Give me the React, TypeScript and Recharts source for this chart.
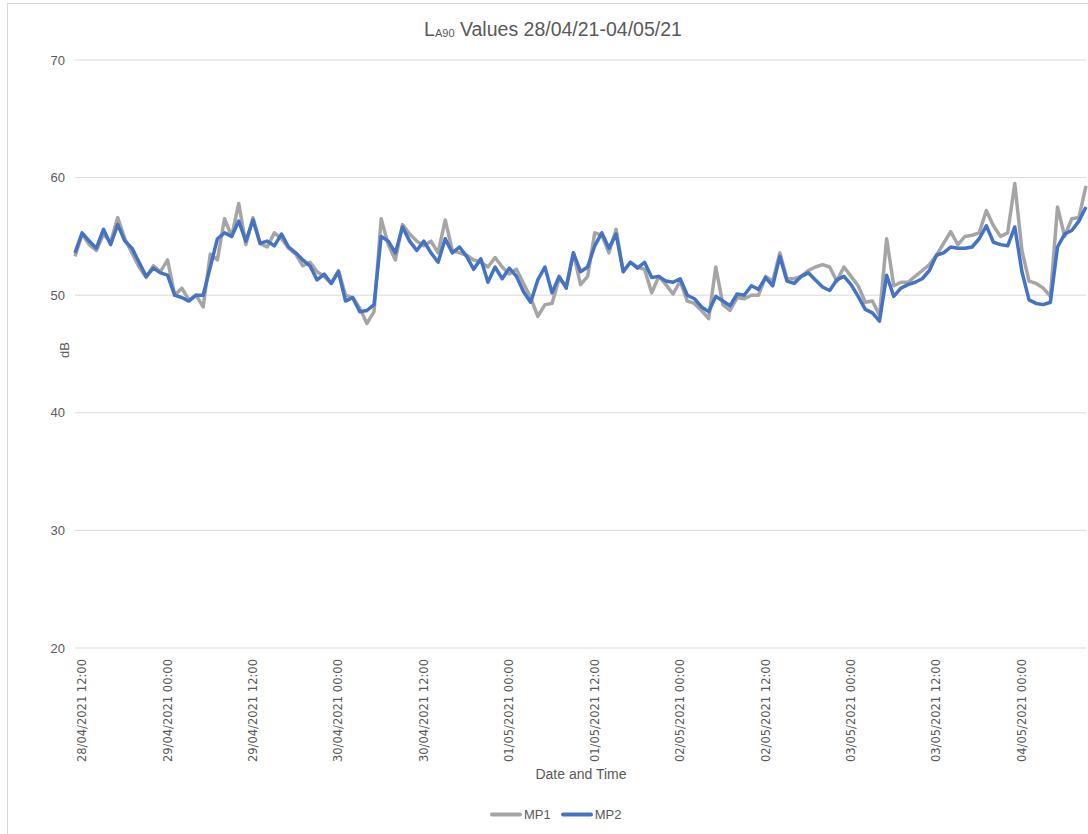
import React from 'react';
import { LineChart, Line, XAxis, YAxis, CartesianGrid } from 'recharts';

// hourly readings, first one at 28/04/2021 11:00 (hour 11 counted from 28/04 00:00)
const START_HOUR = 11;

const mp1 = [
  53.3, 55.2, 54.3, 53.8, 55.2, 54.5, 56.6, 54.8, 53.6, 52.4,
  51.5, 52.5, 52.0, 53.0, 50.0, 50.6, 49.6, 50.0, 49.0, 53.5,
  53.0, 56.5, 55.0, 57.8, 54.3, 56.6, 54.4, 54.1, 55.3, 54.8,
  54.0, 53.5, 52.5, 52.8, 52.0, 51.6, 51.0, 52.1, 50.0, 49.8,
  48.9, 47.6, 48.6, 56.5, 54.3, 53.0, 56.0, 55.2, 54.6, 54.2,
  54.6, 53.6, 56.4, 53.8, 53.6, 53.4, 53.0, 52.8, 52.4, 53.2,
  52.4, 51.8, 52.2, 51.0, 49.8, 48.2, 49.2, 49.3, 51.4, 50.8,
  53.6, 50.9, 51.6, 55.3, 55.1, 53.6, 55.6, 52.0, 52.8, 52.4,
  52.2, 50.2, 51.6, 50.9, 50.1, 51.2, 49.5, 49.3, 48.7, 48.0,
  52.4, 49.2, 48.7, 49.8, 49.7, 50.0, 50.0, 51.6, 51.2, 53.6,
  51.4, 51.4, 51.6, 52.1, 52.4, 52.6, 52.4, 51.2, 52.4, 51.6,
  50.8, 49.4, 49.5, 48.3, 54.8, 50.8, 51.1, 51.1, 51.6, 52.1,
  52.6, 53.4, 54.4, 55.4, 54.3, 55.0, 55.1, 55.3, 57.2, 55.9,
  55.0, 55.3, 59.5, 53.8, 51.2, 51.0, 50.6, 49.9, 57.5, 55.0,
  56.5, 56.6, 59.3,
];

const mp2 = [
  53.6, 55.3, 54.6, 54.0, 55.6, 54.3, 56.0, 54.6, 54.0, 52.8,
  51.6, 52.3, 51.9, 51.7, 50.0, 49.8, 49.5, 50.0, 50.0, 52.4,
  54.8, 55.3, 55.0, 56.3, 54.6, 56.4, 54.4, 54.6, 54.2, 55.2,
  54.1, 53.6, 53.0, 52.5, 51.3, 51.8, 51.0, 52.0, 49.5, 49.8,
  48.6, 48.7, 49.2, 55.0, 54.6, 53.6, 55.8, 54.6, 53.8, 54.6,
  53.6, 52.8, 54.8, 53.6, 54.1, 53.3, 52.2, 53.1, 51.1, 52.4,
  51.4, 52.3, 51.6, 50.3, 49.4, 51.3, 52.4, 50.2, 51.6, 50.6,
  53.6, 52.0, 52.4, 54.2, 55.3, 54.0, 55.2, 52.0, 52.8, 52.3,
  52.8, 51.5, 51.6, 51.2, 51.1, 51.4, 50.0, 49.7, 49.0, 48.6,
  49.9, 49.5, 49.1, 50.1, 50.0, 50.8, 50.5, 51.5, 50.8, 53.3,
  51.2, 51.0, 51.6, 51.9, 51.3, 50.7, 50.4, 51.3, 51.6, 50.9,
  49.9, 48.8, 48.5, 47.8, 51.7, 49.9, 50.6, 50.9, 51.1, 51.4,
  52.1, 53.4, 53.6, 54.1, 54.0, 54.0, 54.1, 54.8, 55.9, 54.5,
  54.3, 54.2, 55.8, 52.0, 49.6, 49.3, 49.2, 49.4, 54.1, 55.2,
  55.5, 56.3, 57.5,
];

const xTicks = [12, 24, 36, 48, 60, 72, 84, 96, 108, 120, 132, 144];
const xTickLabels = [
  '28/04/2021 12:00', '29/04/2021 00:00', '29/04/2021 12:00', '30/04/2021 00:00',
  '30/04/2021 12:00', '01/05/2021 00:00', '01/05/2021 12:00', '02/05/2021 00:00',
  '02/05/2021 12:00', '03/05/2021 00:00', '03/05/2021 12:00', '04/05/2021 00:00',
];
const yTicks = [20, 30, 40, 50, 60, 70];

const data = mp1.map((v, i) => ({ h: START_HOUR + i, MP1: v, MP2: mp2[i] }));

const GREY = '#A5A5A5';
const BLUE = '#4472C4';
const TEXT = '#595959';
const FONT = '"Liberation Sans", Arial, sans-serif';

const DateTick = (props: any) => {
  const { x, y, payload } = props;
  const label = xTickLabels[xTicks.indexOf(payload.value)];
  const ty = y + 3;
  return (
    <text
      x={x}
      y={ty}
      transform={`rotate(-90, ${x}, ${ty})`}
      textAnchor="end"
      dominantBaseline="central"
      fill={TEXT}
      fontSize={11.5}
      fontFamily='"DejaVu Sans", sans-serif'
    >
      {label}
    </text>
  );
};

const LegendItem = ({ color, name }: { color: string; name: string }) => (
  <div style={{ display: 'flex', alignItems: 'center', marginRight: 10 }}>
    <span style={{ display: 'inline-block', width: 32, height: 4, background: color, borderRadius: 2, marginRight: 2 }} />
    <span>{name}</span>
  </div>
);

export default function App() {
  return (
    <div
      style={{
        position: 'absolute',
        left: 7,
        top: 3,
        width: 1081,
        height: 831,
        borderLeft: '1px solid #D9D9D9',
        borderTop: '1px solid #D9D9D9',
        boxSizing: 'border-box',
        overflow: 'hidden',
        background: '#fff',
        fontFamily: FONT,
        color: TEXT,
      }}
    >
      <div style={{ position: 'absolute', left: 0, top: 14, width: 1090, textAlign: 'center', fontSize: 19.5, whiteSpace: 'nowrap' }}>
        L<span style={{ fontSize: 11, position: 'relative', top: 1 }}>A90</span> Values 28/04/21-04/05/21
      </div>

      <LineChart width={1080} height={826} data={data} margin={{ top: 56, right: 2, left: 0, bottom: 0 }}>
        <CartesianGrid horizontal vertical={false} stroke="#D9D9D9" />
        <XAxis
          type="number"
          dataKey="h"
          domain={[11, 153]}
          ticks={xTicks}
          interval={0}
          tick={<DateTick />}
          tickLine={false}
          axisLine={false}
          height={182}
        />
        <YAxis
          domain={[20, 70]}
          ticks={yTicks}
          width={67}
          axisLine={false}
          tickLine={false}
          tickMargin={4}
          tick={{ fill: TEXT, fontSize: 13, fontFamily: FONT }}
        />
        <Line type="linear" dataKey="MP1" stroke={GREY} strokeWidth={3.5} dot={false} isAnimationActive={false} strokeLinejoin="round" />
        <Line type="linear" dataKey="MP2" stroke={BLUE} strokeWidth={3.5} dot={false} isAnimationActive={false} strokeLinejoin="round" />
      </LineChart>

      <div style={{ position: 'absolute', left: 56, top: 346, transform: 'translate(-50%, -50%) rotate(-90deg)', fontSize: 13 }}>
        dB
      </div>
      <div style={{ position: 'absolute', left: 573, top: 770, transform: 'translate(-50%, -50%)', fontSize: 14, whiteSpace: 'nowrap' }}>
        Date and Time
      </div>
      <div style={{ position: 'absolute', left: 482, top: 810, transform: 'translateY(-50%)', display: 'flex', fontSize: 13 }}>
        <LegendItem color={GREY} name="MP1" />
        <LegendItem color={BLUE} name="MP2" />
      </div>
    </div>
  );
}
